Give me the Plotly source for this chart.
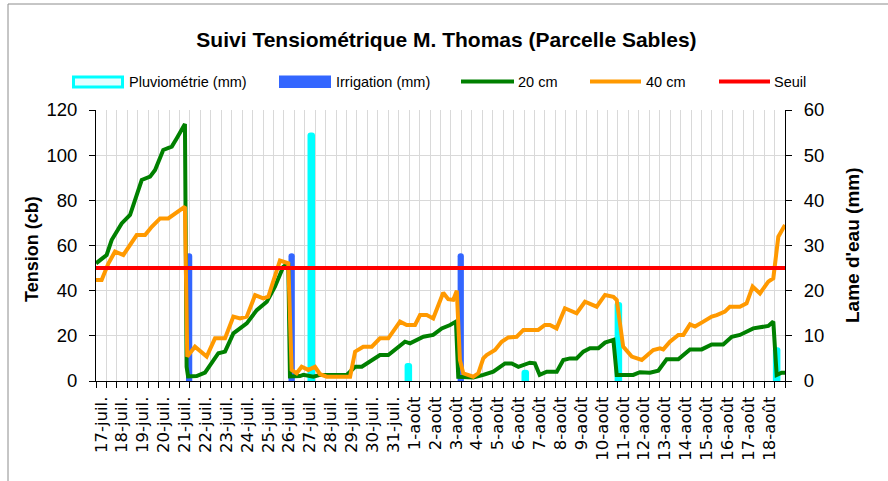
import plotly.graph_objects as go

# ---------------- data ----------------
DAY_LABELS = ["17-juil.", "18-juil.", "19-juil.", "20-juil.", "21-juil.", "22-juil.",
              "23-juil.", "24-juil.", "25-juil.", "26-juil.", "27-juil.", "28-juil.",
              "29-juil.", "30-juil.", "31-juil.",
              "1-août", "2-août", "3-août", "4-août", "5-août", "6-août", "7-août",
              "8-août", "9-août", "10-août", "11-août", "12-août", "13-août", "14-août",
              "15-août", "16-août", "17-août", "18-août"]

# time in days since 17-juil. 00h (label centred on each day)
T20 = [-0.25, 0.26, 0.50, 0.98, 1.38, 1.94, 2.34, 2.58, 2.97, 3.38, 3.62, 4.01, 4.09, 4.16,
       4.57, 4.97, 5.61, 5.93, 6.33, 6.97, 7.45, 7.93, 8.32, 8.72, 8.96, 9.04, 9.52, 9.68,
       10.16, 10.48, 11.76, 12.16, 12.48, 12.87, 13.35, 13.75, 14.15, 14.55, 14.79, 15.11,
       15.43, 15.9, 16.31, 16.71, 16.99, 17.1, 17.82, 18.3, 18.78, 19.34, 19.66, 19.98,
       20.29, 20.53, 20.77, 21.0, 21.34, 21.82, 22.13, 22.45, 22.77, 23.09, 23.41, 23.81,
       24.13, 24.53, 24.69, 25.48, 25.8, 26.28, 26.68, 27.08, 27.64, 28.2, 28.76, 29.24,
       29.79, 30.2, 30.59, 31.23, 31.95, 32.19, 32.35, 32.59, 32.75]
V20 = [52.1, 55.8, 62.4, 69.8, 73.5, 89, 90.5, 93.4, 102.3, 103.8, 107.5, 113.8, 6.3, 2.0,
       2.2, 3.7, 12.3, 13, 21.1, 25.5, 31.4, 35.1, 41.8, 50.6, 52.1, 2.0, 2.2, 2.7,
       1.9, 2.7, 2.7, 6.3, 6.3, 8.6, 11.5, 11.5, 14.5, 17.4, 16.7, 18.2,
       19.6, 20.4, 23.3, 24.8, 26.3, 1.9, 1.6, 2.7, 4.1, 7.8, 7.8, 6.3,
       7.1, 8.1, 7.8, 2.7, 4.1, 4.1, 9.3, 10, 10, 13, 14.5, 14.5,
       17, 18.2, 2.7, 2.7, 3.9, 3.7, 4.6, 9.6, 9.6, 14, 14, 16.2,
       16.2, 19.6, 20.4, 23.3, 24.4, 26.3, 2.7, 3.7, 3.7]

T40 = [-0.25, 0.02, 0.34, 0.66, 1.06, 1.7, 2.1, 2.42, 2.82, 3.21, 4.01, 4.12, 4.49, 5.05,
       5.45, 5.93, 6.33, 6.65, 6.97, 7.37, 7.76, 8.0, 8.56, 8.96, 9.12, 9.36, 9.6, 9.92,
       10.24, 10.48, 10.8, 11.92, 12.16, 12.55, 12.96, 13.35, 13.75, 14.31, 14.63, 15.03,
       15.27, 15.59, 15.9, 16.38, 16.62, 16.86, 17.03, 17.18, 17.34, 17.82, 18.06, 18.3,
       18.46, 18.86, 19.18, 19.5, 19.9, 20.22, 20.93, 21.25, 21.49, 21.81, 22.21, 22.77,
       23.17, 23.73, 24.13, 24.53, 24.69, 25.0, 25.41, 25.89, 26.44, 26.76, 26.92, 27.24,
       27.64, 27.88, 28.2, 28.44, 28.84, 29.24, 29.48, 29.87, 30.11, 30.59, 30.91, 31.2,
       31.55, 31.95, 32.19, 32.43, 32.75]
V40 = [44.7, 44.7, 52, 57.3, 55.8, 64.6, 64.6, 68.3, 72, 72, 77.2, 10.8, 15.2, 10.8,
       18.9, 18.9, 28.5, 27.7, 28.5, 38, 36.6, 37.3, 53.3, 52.1, 4.9, 3.4, 6.3, 4.9,
       6.3, 3.0, 1.9, 1.9, 13, 15.2, 15.2, 18.9, 18.9, 26.3, 24.8, 24.8,
       29.2, 29.2, 27.7, 39.1, 36.2, 35.9, 40, 9.3, 3.4, 1.9, 3.4, 10,
       11.5, 13.7, 17.4, 19.3, 19.6, 22.6, 22.6, 24.8, 24.8, 23.3, 32.2, 30,
       35.1, 32.9, 38.1, 37.3, 35.9, 15.2, 10.8, 9.3, 13.7, 14.5, 14, 17.4,
       20.4, 20.4, 25.1, 24.1, 26.3, 28.5, 29.2, 30.7, 32.9, 32.9, 34.4, 41.8,
       38.8, 44, 45.5, 63.9, 69.1]

SEUIL = 50
SEUIL_T = [-0.25, 32.75]

IRRIG_T = [4.21, 9.12, 17.22]
IRRIG_MM = [28.3, 28.3, 28.3]

PLUVIO_T = [10.06, 14.71, 20.31, 24.77, 32.35]
PLUVIO_MM = [55, 4, 2.5, 17.5, 7.5]

# ---------------- layout helpers ----------------
W, H = 888, 481
L, R, T, B = 96, 785, 110, 381


def fx(px):
    return (px - L) / (R - L)


def fy(py):
    return (B - py) / (B - T)


FONT = "Liberation Sans, Arial, sans-serif"
GRID = "#D9D9D9"

fig = go.Figure()

fig.add_trace(go.Bar(x=PLUVIO_T, y=PLUVIO_MM, name="Pluviométrie (mm)", width=0.36,
                     marker=dict(color="#00FFFF", line=dict(width=0), cornerradius=3),
                     yaxis="y", showlegend=False))
fig.add_trace(go.Bar(x=IRRIG_T, y=IRRIG_MM, name="Irrigation (mm)", width=0.3,
                     marker=dict(color="#3366FF", line=dict(width=0), cornerradius=3),
                     yaxis="y", showlegend=False))
fig.add_trace(go.Scatter(x=T20, y=V20, name="20 cm", mode="lines",
                         line=dict(color="#008000", width=4), yaxis="y2", showlegend=False))
fig.add_trace(go.Scatter(x=T40, y=V40, name="40 cm", mode="lines",
                         line=dict(color="#FF9900", width=4), yaxis="y2", showlegend=False))
fig.add_trace(go.Scatter(x=SEUIL_T, y=[SEUIL] * len(SEUIL_T), name="Seuil", mode="lines",
                         line=dict(color="#FF0000", width=4), yaxis="y2", showlegend=False))

shapes = []
annotations = []

# outer frame
shapes.append(dict(type="rect", xref="paper", yref="paper",
                   x0=fx(8), x1=fx(905), y0=fy(500), y1=fy(4),
                   line=dict(color="#8C8C8C", width=1), fillcolor="rgba(0,0,0,0)", layer="below"))

# custom legend
LEG_Y = 81.5
shapes.append(dict(type="rect", xref="paper", yref="paper",
                   x0=fx(73.5), x1=fx(122.5), y0=fy(87), y1=fy(77),
                   line=dict(color="#00FFFF", width=3), fillcolor="#E6FFFF"))
shapes.append(dict(type="rect", xref="paper", yref="paper",
                   x0=fx(279), x1=fx(331), y0=fy(88), y1=fy(75.5),
                   line=dict(width=0), fillcolor="#3366FF"))
for x0, x1, col in [(461, 514, "#008000"), (590, 641, "#FF9900"), (719, 770, "#FF0000")]:
    shapes.append(dict(type="line", xref="paper", yref="paper",
                       x0=fx(x0), x1=fx(x1), y0=fy(LEG_Y), y1=fy(LEG_Y),
                       line=dict(color=col, width=4)))
for xt, txt in [(127, "Pluviométrie (mm)"), (334, "Irrigation (mm)"), (516, "20 cm"),
                (644, "40 cm"), (772, "Seuil")]:
    annotations.append(dict(x=fx(xt), y=fy(LEG_Y), xref="paper", yref="paper",
                            text=txt, showarrow=False, xanchor="left", yanchor="middle",
                            font=dict(family=FONT, size=14.5, color="black")))

# axis titles
annotations.append(dict(x=fx(32), y=fy(249), xref="paper", yref="paper",
                        text="Tension (cb)", textangle=-90, showarrow=False,
                        xanchor="center", yanchor="middle",
                        font=dict(family=FONT, size=18, color="black", weight="bold")))
annotations.append(dict(x=fx(852), y=fy(245), xref="paper", yref="paper",
                        text="Lame d'eau (mm)", textangle=-90, showarrow=False,
                        xanchor="center", yanchor="middle",
                        font=dict(family=FONT, size=19, color="black", weight="bold")))

fig.update_layout(
    width=W, height=H,
    margin=dict(l=L, r=W - R, t=T, b=H - B, pad=0),
    paper_bgcolor="white", plot_bgcolor="white",
    barmode="overlay",
    showlegend=False,
    title=dict(text="Suivi Tensiométrique M. Thomas (Parcelle Sables)",
               x=446.5 / W, xref="container", xanchor="center",
               y=1 - 40 / H, yref="container", yanchor="middle",
               font=dict(family=FONT, size=21, color="black", weight="bold")),
    xaxis=dict(range=[-0.25, 32.75], tickmode="array",
               tickvals=list(range(len(DAY_LABELS))), ticktext=DAY_LABELS,
               tickangle=-90, ticks="", showgrid=False, zeroline=False,
               showline=True, linecolor="black", linewidth=1,
               ticklabelstandoff=8,
               tickfont=dict(family="DejaVu Sans, sans-serif", size=16.5, color="black"),
               minor=dict(tickmode="linear", tick0=-0.25, dtick=0.5, ticks="outside",
                          ticklen=6, tickcolor="black", tickwidth=1,
                          showgrid=True, gridcolor=GRID, gridwidth=1)),
    yaxis=dict(range=[0, 60], tickmode="linear", tick0=0, dtick=10, side="right",
               showgrid=False, zeroline=False, showline=True, linecolor="black",
               linewidth=1, ticks="outside", ticklen=6, tickcolor="black",
               ticklabelstandoff=8,
               tickfont=dict(family=FONT, size=18.5, color="black")),
    yaxis2=dict(range=[0, 120], tickmode="linear", tick0=0, dtick=20, side="left",
                overlaying="y", showgrid=True, gridcolor=GRID, gridwidth=1,
                zeroline=False, showline=True, linecolor="black", linewidth=1,
                ticks="outside", ticklen=6, tickcolor="black",
                ticklabelstandoff=8,
                tickfont=dict(family=FONT, size=18.5, color="black")),
    shapes=shapes,
    annotations=annotations,
)

fig.write_html("out.html",
               config={"displayModeBar": False},
               post_script="document.body.style.margin='0px';"
                           "document.body.style.overflow='hidden';")
